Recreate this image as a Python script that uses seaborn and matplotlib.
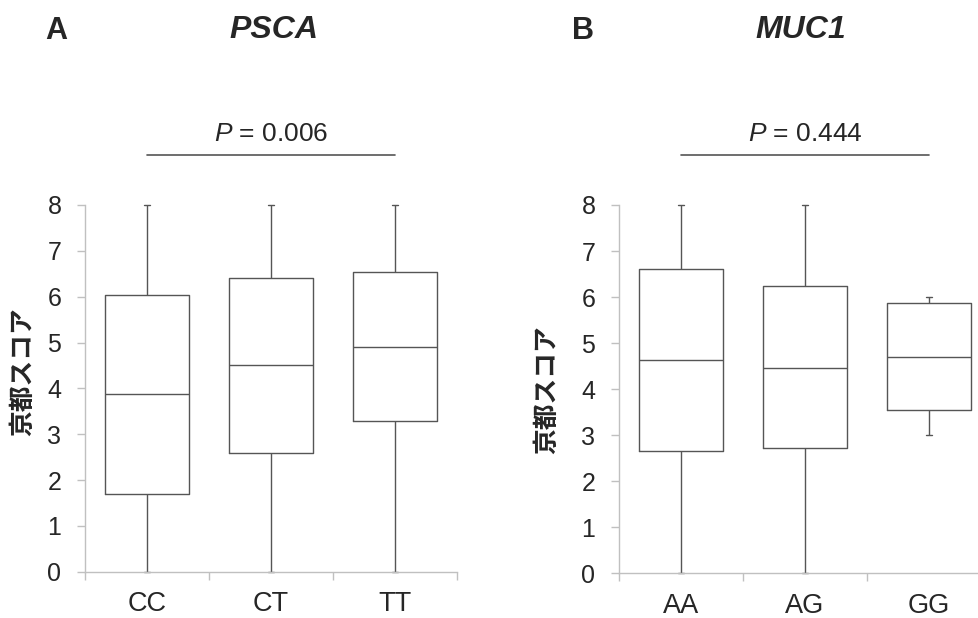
import pandas as pd
import seaborn as sns
import matplotlib
matplotlib.use("Agg")
import matplotlib.pyplot as plt

# ---- datos (resumen de cinco números: mín, Q1, mediana, Q3, máx) ----
psca_groups = ["CC", "CT", "TT"]
psca_cc = [0, 1.70, 3.88, 6.03, 8]
psca_ct = [0, 2.58, 4.50, 6.40, 8]
psca_tt = [0, 3.28, 4.90, 6.53, 8]
psca_p = "0.006"

muc1_groups = ["AA", "AG", "GG"]
muc1_aa = [0, 2.65, 4.63, 6.60, 8]
muc1_ag = [0, 2.72, 4.47, 6.23, 8]
muc1_gg = [3, 3.55, 4.70, 5.87, 6]
muc1_p = "0.444"

y_label = "京都スコア"

sns.set_style("white")
plt.rcParams["font.family"] = ["Liberation Sans", "Noto Sans CJK JP", "DejaVu Sans"]
plt.rcParams["mathtext.fontset"] = "custom"
plt.rcParams["mathtext.it"] = "Liberation Sans:italic"
plt.rcParams["mathtext.rm"] = "Liberation Sans"

W, H = 979, 618
fig = plt.figure(figsize=(W / 100, H / 100), dpi=100)


def px(x, y):
    return x / W, 1 - y / H


def make_df(groups, series):
    rows = []
    for g, vals in zip(groups, series):
        for v in vals:
            rows.append({"genotipo": g, "score": v})
    return pd.DataFrame(rows)


def panel(rect, groups, series, pval):
    ax = fig.add_axes(rect)
    df = make_df(groups, series)
    sns.boxplot(data=df, x="genotipo", y="score", order=groups, whis=(0, 100),
                fill=False, color="#555555", width=0.67, linewidth=1,
                capwidths=0.05, ax=ax)
    ax.set_xlim(-0.5, 2.5)
    ax.set_ylim(0, 8)
    ax.set_yticks(range(0, 9))
    ax.set_xlabel("")
    ax.set_ylabel("")
    for s in ["top", "right"]:
        ax.spines[s].set_visible(False)
    for s in ["left", "bottom"]:
        ax.spines[s].set_color("#c0c0c0")
        ax.spines[s].set_linewidth(1)
    ax.tick_params(axis="y", length=6, width=1, color="#c0c0c0",
                   labelsize=18, pad=11, left=True)
    ax.tick_params(axis="x", which="major", length=0, labelsize=19.5, pad=14)
    ax.set_xticks([-0.5, 0.5, 1.5, 2.5], minor=True)
    ax.tick_params(axis="x", which="minor", length=6, width=1,
                   color="#c0c0c0", bottom=True)
    for ln in ax.lines:
        ln.set_clip_on(False)
    # barra de significancia
    ax.plot([0, 2], [9.09, 9.09], color="#555555", lw=1.2, clip_on=False)
    ax.text(1, 9.55, f"$P$ = {pval}", ha="center", va="center",
            fontsize=19, clip_on=False)
    return ax


axA = panel([85 / W, 46.3 / H, 372 / W, 366.7 / H], psca_groups,
            [psca_cc, psca_ct, psca_tt], psca_p)
axB = panel([619 / W, 44.7 / H, 372 / W, 368.3 / H], muc1_groups,
            [muc1_aa, muc1_ag, muc1_gg], muc1_p)

fig.text(*px(45, 31), "A", fontsize=22, fontweight="bold", ha="left", va="center")
fig.text(*px(572, 31), "B", fontsize=22, fontweight="bold", ha="left", va="center")
fig.text(*px(274, 30), "PSCA", fontsize=23, fontweight="bold", fontstyle="italic",
         ha="center", va="center")
fig.text(*px(801, 30), "MUC1", fontsize=23, fontweight="bold", fontstyle="italic",
         ha="center", va="center")
fig.text(*px(23, 372), y_label, fontsize=18.5, fontweight="bold", rotation=90,
         ha="center", va="center", family=["Noto Sans CJK JP", "DejaVu Sans"])
fig.text(*px(547, 390), y_label, fontsize=18.5, fontweight="bold", rotation=90,
         ha="center", va="center", family=["Noto Sans CJK JP", "DejaVu Sans"])

fig.savefig("out.png", dpi=100)
